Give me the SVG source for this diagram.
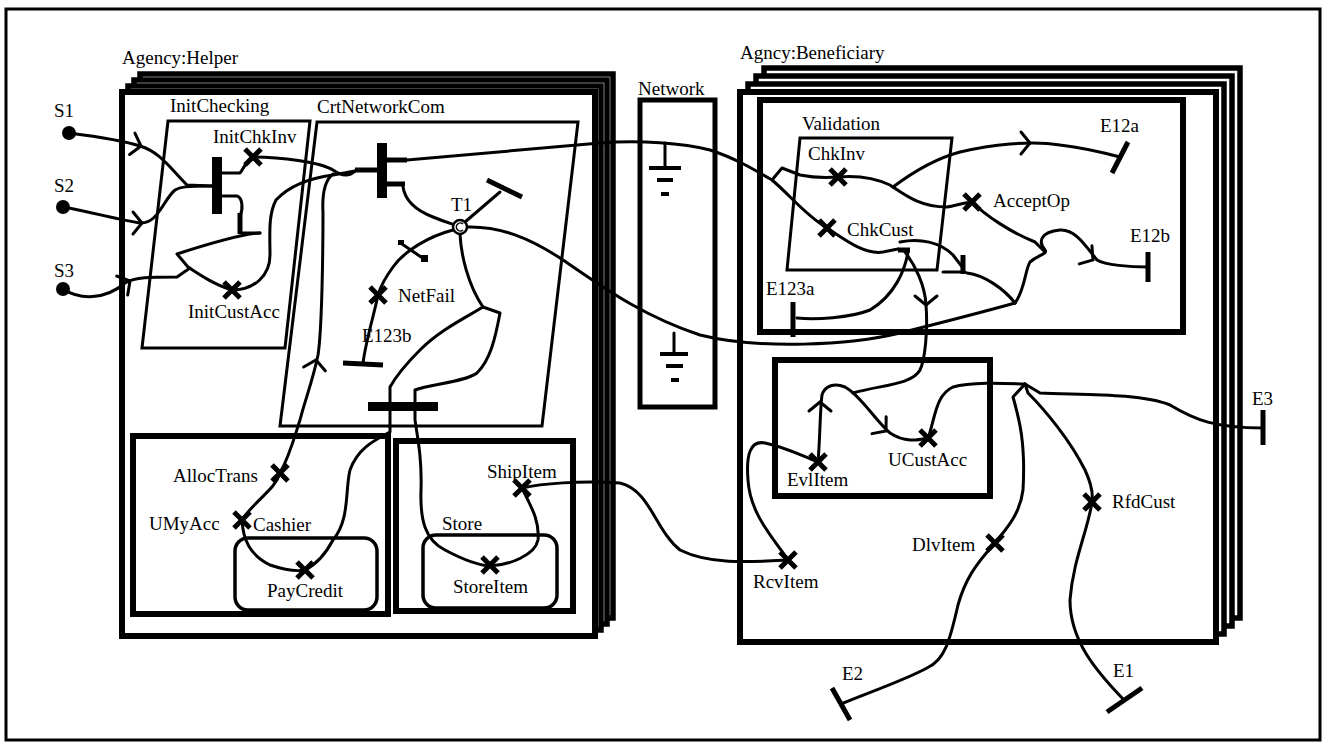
<svg xmlns="http://www.w3.org/2000/svg" width="1331" height="745" viewBox="0 0 1331 745">
<style>
text{font-family:"Liberation Serif","Times New Roman",serif;font-size:19px;fill:#000}
.p{fill:none;stroke:#000;stroke-width:3;stroke-linecap:round;stroke-linejoin:round}
.bar{stroke:#000;stroke-width:5;stroke-linecap:butt;fill:none}
.stk{fill:#fff;stroke:#000;stroke-width:5.5}
.front{fill:#fff;stroke:#000;stroke-width:6}
.thick{fill:none;stroke:#000;stroke-width:6}
.thin{fill:none;stroke:#000;stroke-width:3}
.xm{fill:none;stroke:#000;stroke-width:5;stroke-linecap:butt}
.chev{fill:none;stroke:#000;stroke-width:3;stroke-linecap:round;stroke-linejoin:miter}
</style>
<defs>
<path id="xmark" class="xm" d="M-8,-8L8,8M-8,8L8,-8"/>
<path id="chv" class="chev" d="M-9,-11L0,0L-9,11"/>
</defs>
<rect x="6" y="9" width="1314" height="731" fill="#fff" stroke="#000" stroke-width="3"/>

<g id="helper">
<rect class="stk" x="140" y="74" width="473" height="544"/>
<rect class="stk" x="134" y="80" width="473" height="544"/>
<rect class="stk" x="128" y="86" width="473" height="544"/>
<rect class="front" x="122" y="92" width="473" height="544"/>
<text x="122" y="64">Agency:Helper</text>
</g>
<g id="initchecking">
<polygon class="thin" points="168,121 310,121 285,348 142,348"/>
<text x="170" y="112">InitChecking</text>
</g>
<g id="crtnetworkcom">
<polygon class="thin" points="317,122 578,122 542,426 280,426"/>
<text x="317" y="113">CrtNetworkCom</text>
</g>
<g id="cashier">
<rect class="thick" x="133" y="436" width="255" height="178"/>
<text x="253" y="531">Cashier</text>
</g>
<g id="paycredit">
<rect x="235" y="538" width="142" height="72" rx="13" fill="none" stroke="#000" stroke-width="3.5"/>
</g>
<g id="store">
<rect class="thick" x="396" y="441" width="177" height="170"/>
<text x="442" y="530">Store</text>
</g>
<g id="storeitem">
<rect x="423" y="535" width="134" height="73" rx="13" fill="none" stroke="#000" stroke-width="3.5"/>
</g>
<g id="network">
<rect x="640" y="100" width="75" height="307" fill="none" stroke="#000" stroke-width="5"/>
<text x="638" y="95">Network</text>
<path d="M665,143V168" class="p"/>
<rect x="649" y="166" width="32" height="4"/>
<rect x="657" y="178" width="16" height="4"/>
<rect x="661" y="192" width="8" height="4"/>
<path d="M674,333V354" class="p"/>
<rect x="660" y="352" width="28" height="4"/>
<rect x="666" y="364" width="17" height="4"/>
<rect x="671" y="378" width="8" height="4"/>
</g>
<g id="beneficiary">
<rect class="stk" x="764" y="68" width="476" height="550"/>
<rect class="stk" x="756" y="76" width="476" height="550"/>
<rect class="stk" x="748" y="84" width="476" height="550"/>
<rect class="front" x="740" y="92" width="476" height="550"/>
<text x="740" y="59">Agncy:Beneficiary</text>
</g>
<g id="validation-outer">
<rect class="thick" x="760" y="100" width="423" height="232"/>
</g>
<g id="validation">
<polygon class="thin" points="800,138 952,138 937,270 787,270"/>
<text x="802" y="130">Validation</text>
</g>
<g id="ucustacc-box">
<rect class="thick" x="775" y="360" width="215" height="136"/>
</g>

<g id="connectors">
<path class="p" d="M69,133C100,137 125,141 140,146C160,152 170,168 187,185L212,186"/>
<path class="p" d="M63,207C95,213 120,220 140,223C158,224 163,200 175,190C180,187 185,186 212,186"/>
<path class="p" d="M63,289C80,300 105,300 125,283C135,277 150,277 177,277L190,268"/>
<path class="p" d="M222,173L240,173C243,170 246,160 253,157C280,157 320,162 333,170C340,175 348,178 355,171"/>
<path class="p" d="M222,196L237,196C243,198 243,210 240,216"/>
<path class="bar" d="M240,213V234" stroke-width="4"/>
<path class="p" d="M240,233H260"/>
<path class="p" d="M260,233C240,234 205,245 177,254L188,267C200,275 215,285 232,290"/>
<path class="p" d="M232,290C255,290 270,275 270,255C270,235 268,215 276,200C290,185 310,178 333,175L355,171"/>
<path class="bar" d="M355,170H378"/>
<path class="p" d="M280,473C290,455 295,435 300,420C305,400 313,380 318,355C322,330 323,250 323,213C322,195 325,180 333,174"/>
<path class="bar" d="M387,160H407" stroke-width="4"/>
<path class="p" d="M407,160L600,143C640,140 683,143 710,150C735,158 755,170 772,180C790,195 805,215 827,228C845,240 865,255 883,252L898,249"/>
<path class="bar" d="M898,250H910"/>
<path class="bar" d="M387,184H405"/>
<path class="p" d="M403,187C405,200 415,210 433,217C445,222 452,224 455,225"/>
<path class="p" d="M465,222L500,192"/>
<path class="bar" d="M487,180L522,197"/>
<path class="p" d="M467,227C500,226 530,238 563,260C600,285 640,315 700,335C760,350 850,345 900,333C940,323 990,310 1015,303"/>
<path class="p" d="M460,234C461,255 468,285 483,307"/>
<path class="p" d="M483,307L500,313C495,340 490,360 477,373C465,382 430,384 415,390L415,420C418,440 422,460 421,490C420,520 425,540 445,550C460,558 475,565 490,566"/>
<path class="p" d="M483,307C465,318 440,330 420,350C405,365 395,378 390,387L390,432C375,440 358,448 350,470C345,490 350,520 333,540C325,555 315,565 305,570"/>
<rect x="368" y="402" width="70" height="9"/>
<path class="p" d="M453,230C430,236 405,250 393,267C385,278 380,288 378,295C374,315 366,340 363,363"/>
<path class="bar" d="M343,363L383,365"/>
<path class="p" d="M402,244L424,259"/>
<rect x="398" y="240" width="6" height="5"/>
<rect x="421" y="255" width="7" height="7"/>
<path class="p" d="M280,473C275,490 255,500 242,520C243,540 250,555 270,565C285,570 295,572 305,570"/>
<path class="p" d="M522,488C530,505 540,520 538,540C535,555 510,565 490,566"/>
<path class="p" d="M522,488C540,484 580,480 620,483C650,490 655,530 680,550C710,565 750,562 788,560"/>
<path class="p" d="M788,560C775,540 750,515 748,480C746,455 750,440 765,443C785,447 800,455 818,462"/>
<path class="p" d="M818,462C820,440 820,410 822,395C825,385 835,383 845,387C860,395 875,420 890,433C905,443 918,440 928,438"/>
<path class="p" d="M905,252C915,265 925,285 926,305C928,330 925,360 920,370C912,385 880,385 853,393"/>
<path class="p" d="M928,438C935,420 935,395 953,387C970,382 1000,383 1025,384"/>
<path class="p" d="M1025,384L1040,393C1080,395 1140,393 1170,405C1195,420 1215,428 1263,428"/>
<path class="bar" d="M1263,410V445" stroke-width="7"/>
<path class="p" d="M1025,384L1013,397C1018,415 1026,440 1023,490C1020,515 1005,530 995,543C975,565 965,580 958,605C950,640 945,660 927,668C905,680 870,692 841,704"/>
<path class="bar" d="M832,688L850,720"/>
<path class="p" d="M1025,384L1028,393C1045,410 1070,440 1085,470C1092,485 1093,495 1092,502C1088,530 1073,560 1070,600C1070,640 1095,670 1124,700"/>
<path class="bar" d="M1107,712L1142,688"/>
<path class="p" d="M772,180L782,168L800,175C810,177 825,178 838,177C860,175 875,178 890,185C905,195 920,207 947,207C955,206 962,203 972,202"/>
<path class="p" d="M893,187C905,178 930,160 960,152C990,145 1030,140 1060,145C1085,148 1105,153 1120,157"/>
<path class="bar" d="M1112,173L1128,142"/>
<path class="p" d="M972,202C985,215 1010,232 1035,242L1045,252"/>
<path class="p" d="M1015,303C1025,290 1025,270 1030,262C1038,255 1048,254 1045,250C1038,242 1040,232 1060,230C1075,229 1085,245 1097,260C1105,265 1130,267 1148,267"/>
<path class="bar" d="M1148,252V282"/>
<path class="p" d="M900,242C920,238 940,242 953,255L963,268"/>
<path class="bar" d="M963,255V274" stroke-width="4"/>
<path class="p" d="M943,272H965"/>
<path class="p" d="M967,273C985,275 1005,290 1015,303"/>
<path class="p" d="M908,252C905,270 895,295 870,310C850,318 815,320 797,318"/>
<path class="bar" d="M793,302V337"/>
<use href="#chv" transform="translate(141,146) rotate(14)"/>
<use href="#chv" transform="translate(142,223) rotate(0)"/>
<use href="#chv" transform="translate(130,281) rotate(-30)"/>
<use href="#chv" transform="translate(316,360) rotate(-80)"/>
<use href="#chv" transform="translate(1030,143) rotate(0)"/>
<use href="#chv" transform="translate(1093,260) rotate(35)"/>
<use href="#chv" transform="translate(926,305) rotate(90)"/>
<use href="#chv" transform="translate(820,402) rotate(-90)"/>
<use href="#chv" transform="translate(886,431) rotate(40)"/>
</g>

<g id="starts">
<circle cx="69" cy="133" r="7"/>
<circle cx="63" cy="207" r="7"/>
<circle cx="63" cy="289" r="7"/>
<text x="54" y="117">S1</text>
<text x="54" y="192">S2</text>
<text x="54" y="277">S3</text>
</g>
<g id="fork-initchecking"><rect x="212" y="157" width="10" height="57"/></g>
<g id="join-crtnet"><rect x="377" y="143" width="10" height="55"/></g>
<g id="timer-t1">
<circle cx="460" cy="227" r="7" fill="#fff" stroke="#000" stroke-width="2.5"/>
<path d="M463,224A4,4 0 1 0 463,230" fill="none" stroke="#000" stroke-width="1.5"/>
<text x="451" y="211">T1</text>
</g>
<g id="resp-initchkinv"><use href="#xmark" x="253" y="157"/><text x="213" y="143">InitChkInv</text></g>
<g id="resp-initcustacc"><use href="#xmark" x="232" y="290"/><text x="188" y="318">InitCustAcc</text></g>
<g id="resp-netfail"><use href="#xmark" x="378" y="295"/><text x="398" y="302">NetFail</text></g>
<g id="end-e123b"><text x="362" y="342">E123b</text></g>
<g id="resp-alloctrans"><use href="#xmark" x="280" y="473"/><text x="173" y="482">AllocTrans</text></g>
<g id="resp-umyacc"><use href="#xmark" x="242" y="520"/><text x="149" y="530">UMyAcc</text></g>
<g id="resp-paycredit"><use href="#xmark" x="305" y="570"/><text x="267" y="597">PayCredit</text></g>
<g id="resp-shipitem"><use href="#xmark" x="522" y="488"/><text x="487" y="478">ShipItem</text></g>
<g id="resp-storeitem"><use href="#xmark" x="490" y="565"/><text x="453" y="593">StoreItem</text></g>
<g id="resp-chkinv"><use href="#xmark" x="838" y="177"/><text x="808" y="160">ChkInv</text></g>
<g id="resp-chkcust"><use href="#xmark" x="827" y="228"/><text x="847" y="236">ChkCust</text></g>
<g id="resp-acceptop"><use href="#xmark" x="972" y="202"/><text x="993" y="207">AcceptOp</text></g>
<g id="end-e12a"><text x="1100" y="132">E12a</text></g>
<g id="end-e12b"><text x="1130" y="242">E12b</text></g>
<g id="end-e123a"><text x="766" y="295">E123a</text></g>
<g id="resp-evlitem"><use href="#xmark" x="818" y="462"/><text x="787" y="486">EvlItem</text></g>
<g id="resp-ucustacc"><use href="#xmark" x="928" y="438"/><text x="888" y="466">UCustAcc</text></g>
<g id="resp-rcvitem"><use href="#xmark" x="788" y="560"/><text x="753" y="588">RcvItem</text></g>
<g id="resp-dlvitem"><use href="#xmark" x="995" y="543"/><text x="912" y="551">DlvItem</text></g>
<g id="resp-rfdcust"><use href="#xmark" x="1092" y="502"/><text x="1112" y="508">RfdCust</text></g>
<g id="end-e3"><text x="1252" y="405">E3</text></g>
<g id="end-e2"><text x="842" y="680">E2</text></g>
<g id="end-e1"><text x="1113" y="677">E1</text></g>
</svg>
